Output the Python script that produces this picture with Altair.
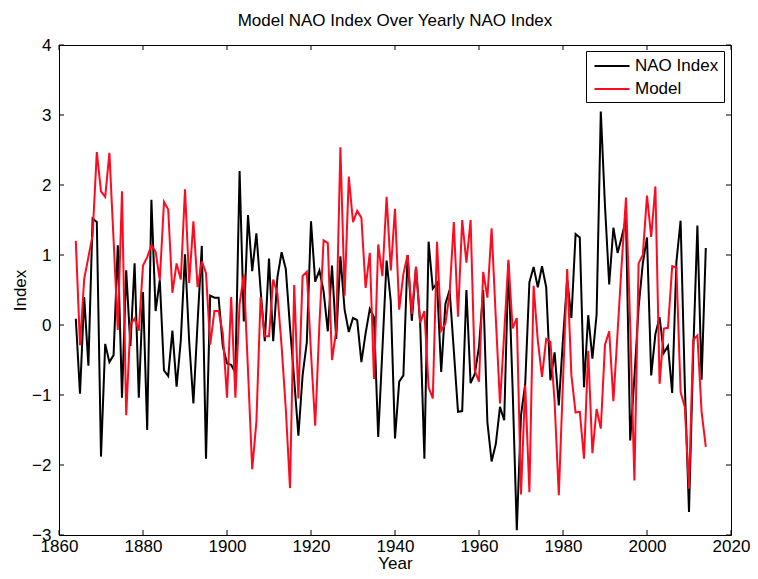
import altair as alt
import pandas as pd

years = list(range(1864, 2015))

nao_index = [
    0.09, -0.98, 0.40, -0.58, 1.52, 1.47,
    -1.88, -0.27, -0.53, -0.43, 1.14, -1.04, 0.78, -0.30, 0.88, -1.04,
    0.47, -1.50, 1.79, 0.20, 0.64, -0.65, -0.73, -0.08, -0.88, -0.22,
    1.01, -0.24, -1.12, 0.04, 1.13, -1.91, 0.42, 0.39, 0.39, -0.30,
    -0.55, -0.57, -0.68, 2.20, 0.05, 1.57, 0.77, 1.31, 0.50, -0.23,
    0.95, -0.23, 0.68, 1.04, 0.80, -0.03, -0.78, -1.58, -0.72, -0.25,
    1.48, 0.62, 0.78, 0.48, -0.09, 0.85, -0.20, 0.98, 0.22, -0.10,
    0.10, 0.07, -0.53, -0.12, 0.23, 0.11, -1.60, -0.35, 0.92, 0.33,
    -1.62, -0.81, -0.72, 1.00, 0.06, 0.83, 0.02, -1.91, 1.19, 0.52,
    0.60, -0.67, 0.30, 0.50, -0.36, -1.24, -1.23, 0.50, -0.83, -0.70,
    -0.31, 0.50, -1.39, -1.95, -1.70, -1.17, -1.36, 0.88, -0.90, -2.93,
    -1.29, -0.84, 0.61, 0.83, 0.54, 0.84, 0.54, -0.79, -0.39, -1.15,
    -0.20, 0.65, 0.10, 1.30, 1.25, -0.89, 0.14, -0.48, 0.15, 3.05,
    1.70, 0.58, 1.39, 1.03, 1.26, 1.52, -1.65, -0.75, 0.25, 0.88,
    1.25, -0.72, -0.13, 0.11, -0.40, -0.30, -0.97, 0.90, 1.49, -0.85,
    -2.67, -0.40, 1.42, -0.78, 1.10,
]

model = [
    1.20, -0.29, 0.66, 0.97, 1.28, 2.47,
    1.91, 1.83, 2.46, 1.21, -0.07, 1.91, -1.29, 0.01, 0.09, -0.08,
    0.85, 0.97, 1.14, 1.05, 0.64, 1.76, 1.65, 0.46, 0.88, 0.65,
    1.94, 0.60, 1.48, 0.54, 0.91, 0.74, -0.28, 0.20, 0.20, -0.12,
    -1.04, 0.40, -1.04, 0.30, 0.72, -0.65, -2.06, -1.38, 0.40, -0.16,
    -0.16, 0.65, 0.45, -0.30, -1.20, -2.33, 0.57, -1.05, 0.70, 0.76,
    -0.40, -1.44, 0.00, 1.21, 1.17, -0.50, -0.08, 2.54, 0.42, 2.12,
    1.47, 1.63, 1.53, 0.53, 1.03, -0.77, 1.15, 0.70, 1.83, 0.78,
    1.66, 0.22, 0.73, 1.00, 0.16, 0.83, 0.03, 0.20, -0.89, -1.05,
    1.19, -0.08, 0.02, 0.45, 1.47, 0.12, 1.50, 0.89, 1.50, -0.65,
    -0.81, 0.76, 0.39, 1.38, 0.10, -1.12, -0.12, 0.93, -0.05, 0.10,
    -2.42, -0.86, -2.39, 0.56, -0.22, -0.74, -0.20, -0.24, -1.10, -2.43,
    -0.80, 0.80, -0.72, -1.25, -1.24, -1.91, -0.37, -1.83, -1.20, -1.48,
    -0.28, -0.09, -1.09, -0.10, 0.90, 1.82, 0.00, -2.22, 0.88, 1.00,
    1.85, 1.26, 1.98, -0.84, -0.05, -0.04, 0.84, 0.82, -0.96, -1.17,
    -2.34, -0.21, -0.15, -1.24, -1.74,
]

series_names = ["NAO Index", "Model"]
series_colors = ["#000000", "#ff0a1e"]
x_ticks = [1860, 1880, 1900, 1920, 1940, 1960, 1980, 2000, 2020]
y_ticks = [-3, -2, -1, 0, 1, 2, 3, 4]

df = pd.DataFrame({
    "Year": years + years,
    "Index": nao_index + model,
    "Series": [series_names[0]] * len(years) + [series_names[1]] * len(years),
})
xt = pd.DataFrame({"Year": x_ticks})
yt = pd.DataFrame({"Index": y_ticks})

W, H = 672, 490
FONT = "Liberation Sans"
FS = 17

x_axis = alt.Axis(values=x_ticks, format="d", ticks=False, domain=False, grid=False,
                  labelFontSize=FS, labelPadding=3, labelFlush=False, labelOverlap=False,
                  title="Year", titleFontSize=FS, titleFontWeight="normal", titlePadding=1)
y_axis = alt.Axis(values=y_ticks, format="d", ticks=False, domain=False, grid=False,
                  labelFontSize=FS, labelPadding=8, labelFlush=False, labelOverlap=False,
                  title="Index", titleFontSize=FS, titleFontWeight="normal", titlePadding=2)

x_scale = alt.Scale(domain=[1860, 2020], nice=False, zero=False)
y_scale = alt.Scale(domain=[-3, 4], nice=False, zero=False)

x_enc = alt.X("Year:Q", scale=x_scale, axis=x_axis)
y_enc = alt.Y("Index:Q", scale=y_scale, axis=y_axis)

color_enc = alt.Color(
    "Series:N",
    scale=alt.Scale(domain=series_names, range=series_colors),
    legend=alt.Legend(
        title=None, orient="none", legendX=527, legendY=6,
        symbolType="M-2,0L2,0", symbolSize=306, symbolStrokeWidth=2,
        symbolOffset=11, labelOffset=13, padding=5, rowPadding=5,
        labelFontSize=FS, labelFont=FONT, labelColor="black",
        strokeColor="black", fillColor="white", cornerRadius=0,
    ),
)

nao_line = alt.Chart(df).transform_filter(alt.datum.Series == series_names[0]).mark_line(
    strokeWidth=2).encode(x=x_enc, y=y_enc, color=color_enc)
model_line = alt.Chart(df).transform_filter(alt.datum.Series == series_names[1]).mark_line(
    strokeWidth=2).encode(x=x_enc, y=y_enc, color=color_enc)

tick_len = 5
bottom_ticks = alt.Chart(xt).mark_rule(color="black", strokeWidth=1).encode(
    x=alt.X("Year:Q", scale=x_scale, axis=x_axis), y=alt.value(H), y2=alt.value(H - tick_len))
top_ticks = alt.Chart(xt).mark_rule(color="black", strokeWidth=1).encode(
    x=alt.X("Year:Q", scale=x_scale, axis=x_axis), y=alt.value(0), y2=alt.value(tick_len))
left_ticks = alt.Chart(yt).mark_rule(color="black", strokeWidth=1).encode(
    y=alt.Y("Index:Q", scale=y_scale, axis=y_axis), x=alt.value(0), x2=alt.value(tick_len))
right_ticks = alt.Chart(yt).mark_rule(color="black", strokeWidth=1).encode(
    y=alt.Y("Index:Q", scale=y_scale, axis=y_axis), x=alt.value(W), x2=alt.value(W - tick_len))

chart = alt.layer(
    nao_line, model_line, bottom_ticks, top_ticks, left_ticks, right_ticks
).properties(
    width=W, height=H,
    title=alt.Title("Model NAO Index Over Yearly NAO Index", fontSize=FS, fontWeight="normal",
                    font=FONT, color="black", anchor="middle", offset=6),
    padding={"left": 51, "top": 37, "right": 19, "bottom": 36},
    autosize=alt.AutoSizeParams(type="none"),
).configure(
    font=FONT,
).configure_view(
    stroke="black", strokeWidth=1,
).configure_axis(
    labelColor="black", titleColor="black", labelFont=FONT, titleFont=FONT,
)

chart.save("out.html", embed_options={"renderer": "svg", "actions": False})
